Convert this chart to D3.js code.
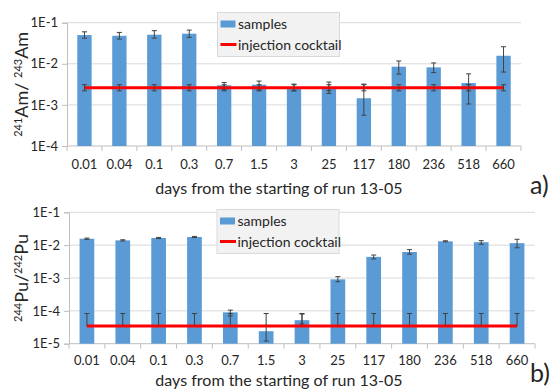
<!DOCTYPE html>
<html>
<head>
<meta charset="utf-8">
<script src="https://cdn.jsdelivr.net/npm/d3@7"></script>
<style>
  html, body { margin: 0; padding: 0; background: #fff; }
  svg { display: block; }
  text { font-family: Lato, "Liberation Sans", sans-serif; fill: #262626; }
</style>
</head>
<body>
<svg id="chart" width="559" height="389"></svg>
<script>
// ---------- data ----------
const categories = ["0.01","0.04","0.1","0.3","0.7","1.5","3","25","117","180","236","518","660"];

// panel a: 241Am/243Am
const amSamples = [0.050, 0.048, 0.051, 0.054, 0.0030, 0.0031, 0.0026, 0.0026, 0.00145, 0.0085, 0.0082, 0.0034, 0.0157];
const amErrLow  = [0.042, 0.040, 0.042, 0.044, 0.0024, 0.0023, 0.0022, 0.0019, 0.00056, 0.0056, 0.0061, 0.00105, 0.0063];
const amErrHigh = [0.060, 0.058, 0.064, 0.066, 0.0035, 0.0038, 0.0032, 0.0036, 0.0032, 0.0117, 0.0105, 0.0057, 0.026];
const amCocktail        = [0.0026,0.0026,0.0026,0.0026,0.0026,0.0026,0.0026,0.0026,0.0026,0.0026,0.0026,0.0026,0.0026];
const amCocktailErrLow  = [0.0022,0.0022,0.0022,0.0022,0.0022,0.0022,0.0022,0.0022,0.0022,0.0022,0.0022,0.0022,0.0022];
const amCocktailErrHigh = [0.0031,0.0031,0.0031,0.0031,0.0031,0.0031,0.0031,0.0031,0.0031,0.0031,0.0031,0.0031,0.0031];
const amTicks = [1e-4, 1e-3, 1e-2, 1e-1];
const amTickLabels = ["1E-4","1E-3","1E-2","1E-1"];

// panel b: 244Pu/242Pu
const puSamples = [0.0157, 0.0140, 0.0165, 0.0177, 9.0e-5, 2.4e-5, 5.2e-5, 9.1e-4, 4.4e-3, 6.2e-3, 0.0131, 0.0123, 0.0115];
const puErrLow  = [0.0150, 0.0134, 0.0158, 0.0170, 7.0e-5, 1.2e-5, 4.0e-5, 7.7e-4, 3.8e-3, 5.3e-3, 0.0126, 0.0106, 0.0083];
const puErrHigh = [0.0164, 0.0146, 0.0172, 0.0184, 1.05e-4, 3.6e-5, 8.0e-5, 1.1e-3, 5.0e-3, 7.3e-3, 0.0136, 0.0137, 0.0151];
const puCocktail        = [3.45e-5,3.45e-5,3.45e-5,3.45e-5,3.45e-5,3.45e-5,3.45e-5,3.45e-5,3.45e-5,3.45e-5,3.45e-5,3.45e-5,3.45e-5];
const puCocktailErrLow  = [3.45e-5,3.45e-5,3.45e-5,3.45e-5,3.45e-5,3.45e-5,3.45e-5,3.45e-5,3.45e-5,3.45e-5,3.45e-5,3.45e-5,3.45e-5];
const puCocktailErrHigh = [8.3e-5,8.3e-5,8.3e-5,8.3e-5,8.3e-5,8.3e-5,8.3e-5,8.3e-5,8.3e-5,8.3e-5,8.3e-5,8.3e-5,8.3e-5];
const puTicks = [1e-5, 1e-4, 1e-3, 1e-2, 1e-1];
const puTickLabels = ["1E-5","1E-4","1E-3","1E-2","1E-1"];

const xTitle = "days from the starting of run 13-05";
const legendLabels = ["samples", "injection cocktail"];

// ---------- drawing ----------
const svg = d3.select("#chart");
const BAR = "#5b9bd5", RED = "#ff0000", GRID = "#d9d9d9", AX = "#bfbfbf", ERR = "#404040";

function drawPanel(p) {
  const g = svg.append("g");
  const x = d3.scaleBand().domain(categories).range([p.left, p.right]).padding(0);
  const y = d3.scaleLog().domain([p.ticks[0], p.ticks[p.ticks.length - 1]]).range([p.bottom, p.top]);
  const bw = x.bandwidth() * 0.41;
  const cx = c => x(c) + x.bandwidth() / 2;

  // gridlines
  g.append("g").selectAll("line").data(p.ticks.slice(1)).join("line")
    .attr("x1", p.left).attr("x2", p.right)
    .attr("y1", d => y(d)).attr("y2", d => y(d))
    .attr("stroke", GRID).attr("stroke-width", 1);

  // y axis
  const yAxis = d3.axisLeft(y).tickValues(p.ticks)
    .tickFormat((d, i) => p.tickLabels[i]).tickSize(5).tickPadding(4);
  const ya = g.append("g").attr("transform", `translate(${p.left},0)`).call(yAxis);
  ya.select(".domain").attr("stroke", AX);
  ya.selectAll(".tick line").attr("stroke", AX);
  ya.selectAll(".tick text").attr("font-size", 13).attr("fill", "#262626")
    .attr("font-family", "Lato, 'Liberation Sans', sans-serif");

  // x axis: ticks at category boundaries
  const xa = g.append("g").attr("transform", `translate(0,${p.bottom})`);
  xa.append("line").attr("x1", p.left).attr("x2", p.right).attr("stroke", AX);
  const bounds = categories.map(c => x(c)).concat([p.right]);
  xa.selectAll("line.tk").data(bounds).join("line").attr("class", "tk")
    .attr("x1", d => d).attr("x2", d => d).attr("y1", 0).attr("y2", 5).attr("stroke", AX);
  xa.selectAll("text").data(categories).join("text")
    .attr("x", d => cx(d)).attr("y", p.labelDy)
    .attr("text-anchor", "middle").attr("font-size", 13).text(d => d);

  // bars
  g.append("g").selectAll("rect").data(categories).join("rect")
    .attr("x", d => cx(d) - bw / 2).attr("width", bw)
    .attr("y", (d, i) => y(p.samples[i]))
    .attr("height", (d, i) => p.bottom - y(p.samples[i]))
    .attr("fill", BAR);

  function errBars(lo, hi, capLo) {
    const eg = g.append("g").attr("stroke", ERR).attr("stroke-width", 1);
    categories.forEach((c, i) => {
      const xc = cx(c);
      eg.append("line").attr("x1", xc).attr("x2", xc).attr("y1", y(hi[i])).attr("y2", y(lo[i]));
      eg.append("line").attr("x1", xc - 2.5).attr("x2", xc + 2.5).attr("y1", y(hi[i])).attr("y2", y(hi[i]));
      if (capLo) eg.append("line").attr("x1", xc - 2.5).attr("x2", xc + 2.5).attr("y1", y(lo[i])).attr("y2", y(lo[i]));
    });
  }
  errBars(p.errLow, p.errHigh, true);

  // injection cocktail line
  const line = d3.line().x((d, i) => cx(categories[i])).y(d => y(d));
  g.append("path").datum(p.cocktail).attr("d", line)
    .attr("fill", "none").attr("stroke", RED).attr("stroke-width", 3);
  errBars(p.cErrLow, p.cErrHigh, p.cCapLo);

  // y title
  const yt = g.append("text")
    .attr("transform", `translate(${p.yTitleX},${(p.top + p.bottom) / 2}) rotate(-90)`)
    .attr("text-anchor", "middle").attr("font-size", 18);
  p.yTitle.forEach(part => {
    const ts = yt.append("tspan").text(part.t);
    if (part.sup) ts.attr("font-size", 11).attr("baseline-shift", "super");
  });

  // x title
  g.append("text").attr("x", 279).attr("y", p.titleY)
    .attr("text-anchor", "middle").attr("font-size", 16).text(xTitle);

  // legend
  const lg = g.append("g").attr("transform", `translate(${p.legX},${p.legY})`);
  lg.append("rect").attr("width", 122).attr("height", 44)
    .attr("fill", "#f2f2f2").attr("stroke", "#d9d9d9");
  lg.append("rect").attr("x", 3).attr("y", 8).attr("width", 15).attr("height", 7).attr("fill", BAR);
  lg.append("text").attr("x", 20.5).attr("y", 16).attr("font-size", 14).text(legendLabels[0]);
  lg.append("line").attr("x1", 3).attr("x2", 19).attr("y1", 32).attr("y2", 32)
    .attr("stroke", RED).attr("stroke-width", 3);
  lg.append("text").attr("x", 20.5).attr("y", 37).attr("font-size", 14).text(legendLabels[1]);

  // panel letter
  g.append("text").attr("x", 530).attr("y", p.letterY)
    .attr("font-family", "'Liberation Serif', 'DejaVu Serif', serif")
    .attr("font-size", 25).attr("fill", "#000").text(p.letter);
}

drawPanel({
  left: 67, right: 521, top: 22.7, bottom: 146,
  ticks: amTicks, tickLabels: amTickLabels,
  samples: amSamples, errLow: amErrLow, errHigh: amErrHigh,
  cocktail: amCocktail, cErrLow: amCocktailErrLow, cErrHigh: amCocktailErrHigh, cCapLo: true,
  yTitle: [{t:"241", sup:true},{t:"Am/ "},{t:"243", sup:true},{t:"Am"}],
  yTitleX: 28, labelDy: 23, titleY: 193.5, legX: 217.5, legY: 12.5, letter: "a)", letterY: 194
});

drawPanel({
  left: 69, right: 535, top: 212.3, bottom: 343.7,
  ticks: puTicks, tickLabels: puTickLabels,
  samples: puSamples, errLow: puErrLow, errHigh: puErrHigh,
  cocktail: puCocktail, cErrLow: puCocktailErrLow, cErrHigh: puCocktailErrHigh, cCapLo: false,
  yTitle: [{t:"244", sup:true},{t:"Pu/"},{t:"242", sup:true},{t:"Pu"}],
  yTitleX: 28, labelDy: 21.5, titleY: 385.5, legX: 217, legY: 209.5, letter: "b)", letterY: 382
});
</script>
</body>
</html>
